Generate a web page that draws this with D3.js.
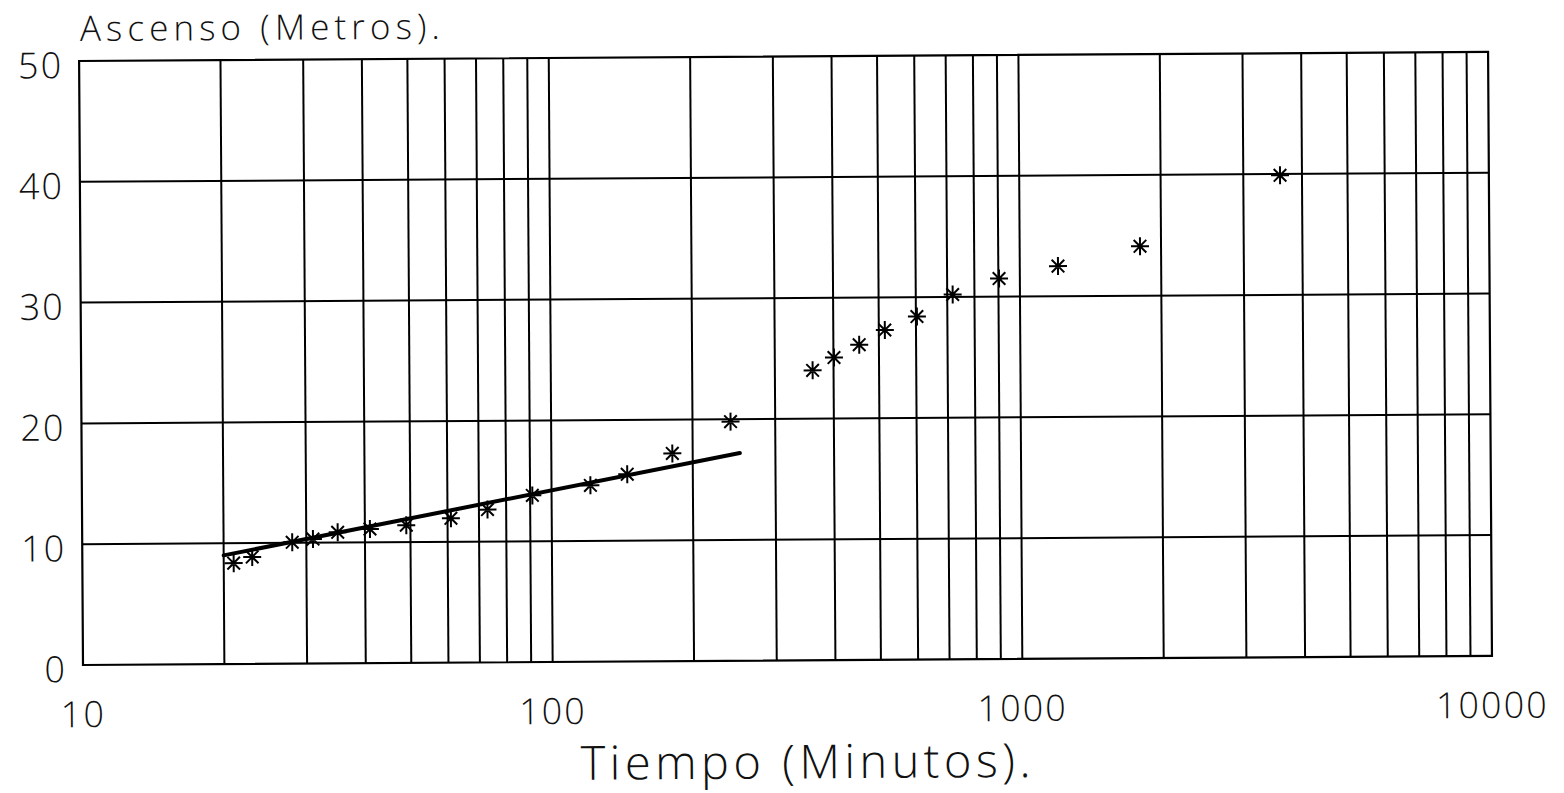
<!DOCTYPE html>
<html>
<head>
<meta charset="utf-8">
<script src="https://cdn.jsdelivr.net/npm/d3@7.9.0/dist/d3.min.js"></script>
<style>
  html, body { margin: 0; padding: 0; background: #fff; }
  svg text { font-family: "Open Sans", "Liberation Sans", sans-serif; font-weight: 300; fill: #111; }
</style>
</head>
<body>
<svg width="1564" height="793"></svg>
<script>
// datos del ensayo (tiempo en minutos, ascenso en metros)
const tiempo = [21, 23, 28, 31, 35, 41, 49, 61, 73, 91, 121, 145, 181, 241,
  361, 401, 454, 515, 603, 719, 903, 1206, 1804, 3592];
const ascenso = [8.35, 8.85, 10.05, 10.3, 10.85, 11.1, 11.4, 11.95, 12.65, 13.8, 14.6, 15.5, 17.2, 19.8,
  24.0, 25.05, 26.1, 27.3, 28.4, 30.2, 31.5, 32.5, 34.1, 39.9];

// recta de ajuste
const ajusteTiempo = [20, 252];
const ajusteAscenso = [9.0, 17.2];

const yTicks = [0, 10, 20, 30, 40, 50];
const xLabels = [10, 100, 1000, 10000];

const svg = d3.select('svg');
// the scan is slightly tilted
const g = svg.append('g').attr('transform', 'rotate(-0.37, 83, 665)');

const x = d3.scaleLog().domain([10, 10000]).range([83, 1492]);
const y = d3.scaleLinear().domain([0, 50]).range([665, 61]);

// vertical grid: every log tick
const xGrid = x.ticks().filter(d => d > 10 && d < 10000);
g.append('g')
  .selectAll('line')
  .data(xGrid)
  .join('line')
  .attr('x1', d => x(d)).attr('x2', d => x(d))
  .attr('y1', y(0)).attr('y2', y(50))
  .attr('stroke', '#000').attr('stroke-width', 2);

g.append('g')
  .selectAll('line')
  .data(yTicks.slice(1, -1))
  .join('line')
  .attr('x1', x(10)).attr('x2', x(10000))
  .attr('y1', d => y(d)).attr('y2', d => y(d))
  .attr('stroke', '#000').attr('stroke-width', 2);

g.append('rect')
  .attr('x', x(10)).attr('y', y(50))
  .attr('width', x(10000) - x(10)).attr('height', y(0) - y(50))
  .attr('fill', 'none').attr('stroke', '#000').attr('stroke-width', 2.2);

// y labels
g.append('g')
  .selectAll('text')
  .data(yTicks)
  .join('text')
  .attr('x', 67).attr('y', d => y(d) + 17)
  .attr('text-anchor', 'end')
  .attr('font-size', 36)
  .attr('letter-spacing', 2)
  .text(d => d);

// x labels
g.append('g')
  .selectAll('text')
  .data(xLabels)
  .join('text')
  .attr('x', d => x(d)).attr('y', 727)
  .attr('text-anchor', 'middle')
  .attr('font-size', 36)
  .attr('letter-spacing', 2)
  .text(d => d);

g.append('text')
  .attr('x', 84).attr('y', 41)
  .attr('font-size', 35)
  .attr('textLength', 360).attr('lengthAdjust', 'spacing')
  .text('Ascenso (Metros).');

g.append('text')
  .attr('x', 580).attr('y', 783)
  .attr('font-size', 47)
  .attr('textLength', 450).attr('lengthAdjust', 'spacing')
  .text('Tiempo (Minutos).');

// fitted line
const ajuste = ajusteTiempo.map((t, i) => [t, ajusteAscenso[i]]);
g.append('path')
  .datum(ajuste)
  .attr('d', d3.line().x(d => x(d[0])).y(d => y(d[1])))
  .attr('fill', 'none').attr('stroke', '#000').attr('stroke-width', 4)
  .attr('stroke-linecap', 'round');

// asterisks
const r = 9;
const star = `M${-r},0L${r},0M0,${-r}L0,${r}M${-r * 0.7},${-r * 0.7}L${r * 0.7},${r * 0.7}M${-r * 0.7},${r * 0.7}L${r * 0.7},${-r * 0.7}`;
g.append('g')
  .selectAll('path')
  .data(tiempo.map((t, i) => [t, ascenso[i]]))
  .join('path')
  .attr('transform', d => `translate(${x(d[0])},${y(d[1])})`)
  .attr('d', star)
  .attr('stroke', '#000').attr('stroke-width', 2)
  .attr('fill', 'none');
</script>
</body>
</html>
